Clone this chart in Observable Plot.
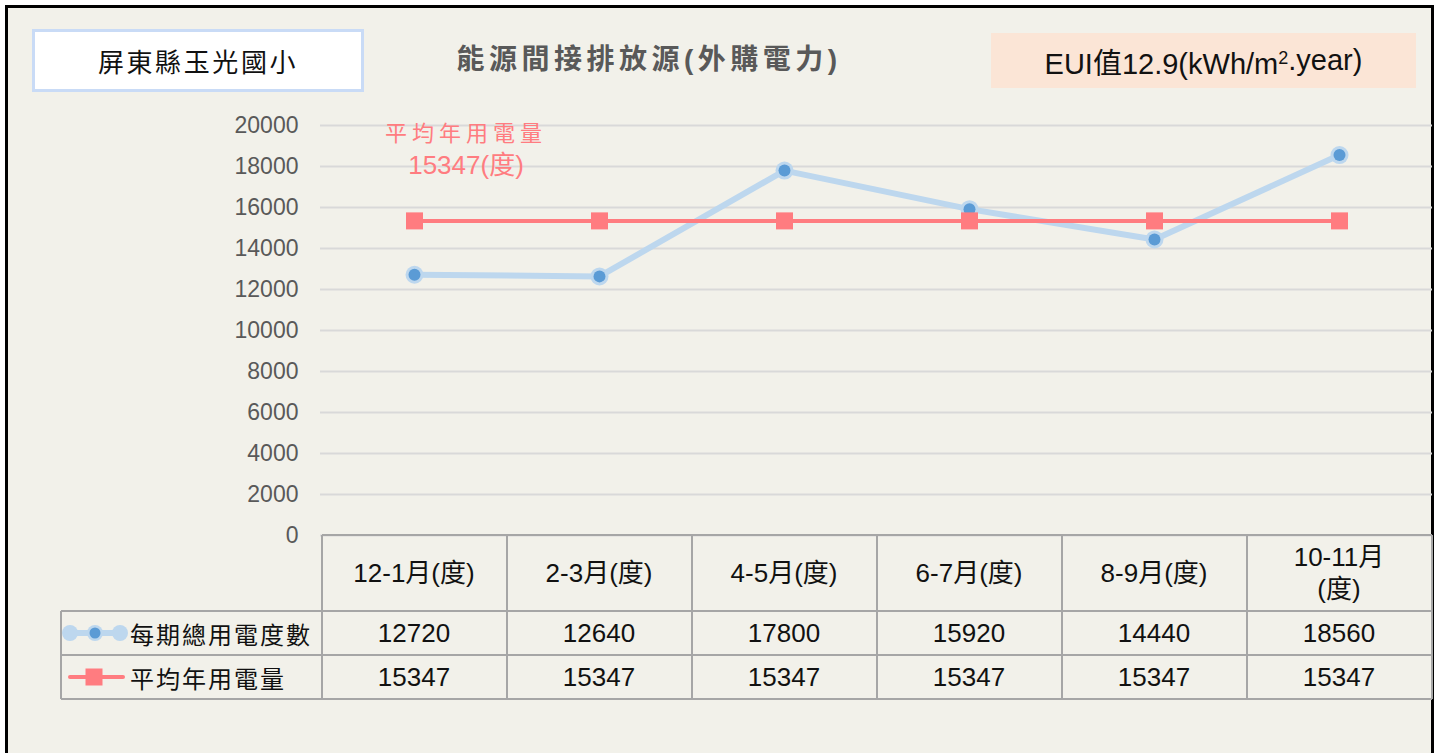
<!DOCTYPE html>
<html><head><meta charset="utf-8">
<script src="https://cdn.jsdelivr.net/npm/d3@7"></script>
<script src="https://cdn.jsdelivr.net/npm/@observablehq/plot@0.6"></script>
<style>
html,body{margin:0;padding:0;background:#fff;overflow:hidden;width:1438px;height:753px;position:relative}
body{font-family:"Liberation Sans",Arial,"Noto Sans CJK TC",sans-serif}
#frame{position:absolute;left:5px;top:5px;width:1429px;height:800px;border:3px solid #000;background:#f2f1ea;box-sizing:border-box}
#chart{position:absolute;left:0;top:0}
.abs{position:absolute}
#school{left:32px;top:29px;width:332px;height:63px;box-sizing:border-box;border:3px solid #c9dbf6;background:#fff;display:flex;align-items:center;justify-content:center;font-family:"Noto Sans CJK TC",sans-serif;font-size:26px;letter-spacing:2.6px;color:#111}
#title{left:649px;top:57px;transform:translate(-50%,-50%);white-space:nowrap;font-family:"Liberation Sans","Noto Sans CJK TC",sans-serif;font-weight:bold;font-size:28px;letter-spacing:4.5px;color:#595959}
#eui{left:991px;top:33px;width:425px;height:55px;background:#fbe5d6;display:flex;align-items:center;justify-content:center;font-size:29px;color:#111;white-space:nowrap}
#eui sup{font-size:18px;position:relative;top:-2px}
.anno{left:466px;transform:translate(-50%,-50%);white-space:nowrap;color:#ff7c80}
.hl{position:absolute;height:2px;background:#a6a6a6}
.vl{position:absolute;width:2px;background:#a6a6a6}
.cell{position:absolute;display:flex;align-items:center;justify-content:center;text-align:center;font-size:26px;color:#111;line-height:1.25}
.leg{position:absolute;display:flex;align-items:center;font-family:"Noto Sans CJK TC",sans-serif;font-size:24px;letter-spacing:2px;color:#111}
</style></head>
<body>
<div id="frame"></div>
<div id="chart"></div>
<div id="school" class="abs">屏東縣玉光國小</div>
<div id="title" class="abs">能源間接排放源(外購電力)</div>
<div id="eui" class="abs">EUI值12.9(kWh/m<sup>2</sup>.year)</div>
<div class="abs anno" style="top:131px;font-family:'Noto Sans CJK TC',sans-serif;font-size:22px;letter-spacing:5px">平均年用電量</div>
<div class="abs anno" style="top:162px;font-size:26px">15347(度)</div>
<script>
const periods = ["12-1月(度)", "2-3月(度)", "4-5月(度)", "6-7月(度)", "8-9月(度)", "10-11月(度)"];
const totalUse = [12720, 12640, 17800, 15920, 14440, 18560];
const avgUse = [15347, 15347, 15347, 15347, 15347, 15347];
const yTicks = [0, 2000, 4000, 6000, 8000, 10000, 12000, 14000, 16000, 18000, 20000];
const seriesNames = ["每期總用電度數", "平均年用電量"];

const data = periods.map((p, i) => ({period: p, total: totalUse[i], avg: avgUse[i]}));

const plot = Plot.plot({
  width: 1438, height: 545,
  marginLeft: 320, marginRight: 6, marginTop: 125, marginBottom: 10,
  style: {background: "transparent", fontFamily: "'Liberation Sans', Arial, sans-serif", fontSize: "23px", color: "#595959", overflow: "visible"},
  x: {type: "point", domain: periods, padding: 0.5, axis: null},
  y: {domain: [0, 20000], ticks: yTicks, tickFormat: d => String(d), tickSize: 0, tickPadding: 22, label: null},
  marks: [
    Plot.ruleY(yTicks, {stroke: "#d9d9d9", strokeWidth: 2}),
    Plot.line(data, {x: "period", y: "total", stroke: "#bdd7ee", strokeWidth: 6}),
    Plot.dot(data, {x: "period", y: "total", r: 9, fill: "#bdd7ee", stroke: "none"}),
    Plot.dot(data, {x: "period", y: "total", r: 6, fill: "#5b9bd5", stroke: "none"}),
    Plot.line(data, {x: "period", y: "avg", stroke: "#ff7c80", strokeWidth: 4}),
    Plot.dot(data, {x: "period", y: "avg", symbol: "square", r: 9.6, fill: "#ff7c80", stroke: "none"})
  ]
});
document.getElementById("chart").appendChild(plot);

// data table under the chart, aligned to the x scale
const xs = plot.scale("x");
const ys = plot.scale("y");
const cx = periods.map(p => xs.apply(p));
const step = cx[1] - cx[0];
const x0 = cx[0] - step / 2, x1 = cx[cx.length - 1] + step / 2;
const legX = 61;
const yTop = ys.apply(0);
const rows = [yTop, yTop + 76, yTop + 120, yTop + 164];

function add(cls, style, html) {
  const d = document.createElement("div");
  d.className = cls;
  Object.assign(d.style, style);
  if (html != null) d.innerHTML = html;
  document.body.appendChild(d);
  return d;
}
add("hl", {left: x0 + "px", top: (rows[0] - 1) + "px", width: (x1 - x0) + "px"});
for (let r = 1; r < 4; r++) add("hl", {left: legX + "px", top: (rows[r] - 1) + "px", width: (x1 - legX) + "px"});
add("vl", {left: (legX - 1) + "px", top: rows[1] + "px", height: (rows[3] - rows[1]) + "px"});
for (let k = 0; k <= periods.length; k++) add("vl", {left: (x0 + k * step - 1) + "px", top: rows[0] + "px", height: (rows[3] - rows[0]) + "px"});

periods.forEach((p, i) => {
  const left = (x0 + i * step) + "px", w = step + "px";
  const label = p.length > 8 ? p.replace("月(", "月<br>(") : p;
  add("cell", {left, width: w, top: rows[0] + "px", height: (rows[1] - rows[0]) + "px"}, label);
  add("cell", {left, width: w, top: rows[1] + "px", height: (rows[2] - rows[1]) + "px"}, String(totalUse[i]));
  add("cell", {left, width: w, top: rows[2] + "px", height: (rows[3] - rows[2]) + "px"}, String(avgUse[i]));
});

const swBlue = `<svg width="66" height="24" style="margin-right:2px;flex:none"><line x1="6" x2="58" y1="12" y2="12" stroke="#bdd7ee" stroke-width="6"/><circle cx="8" cy="12" r="8" fill="#bdd7ee"/><circle cx="33" cy="12" r="8" fill="#bdd7ee"/><circle cx="33" cy="12" r="5.5" fill="#5b9bd5"/><circle cx="58" cy="12" r="8" fill="#bdd7ee"/></svg>`;
const swRed = `<svg width="66" height="24" style="margin-right:2px;flex:none"><line x1="8" x2="61" y1="12" y2="12" stroke="#ff7c80" stroke-width="4" stroke-linecap="round"/><rect x="23.5" y="3.5" width="17" height="17" fill="#ff7c80"/></svg>`;
add("leg", {left: legX + 1 + "px", width: (x0 - legX - 2) + "px", top: rows[1] + "px", height: (rows[2] - rows[1]) + "px"}, swBlue + `<span>${seriesNames[0]}</span>`);
add("leg", {left: legX + 1 + "px", width: (x0 - legX - 2) + "px", top: rows[2] + "px", height: (rows[3] - rows[2]) + "px"}, swRed + `<span>${seriesNames[1]}</span>`);
</script>
</body></html>
